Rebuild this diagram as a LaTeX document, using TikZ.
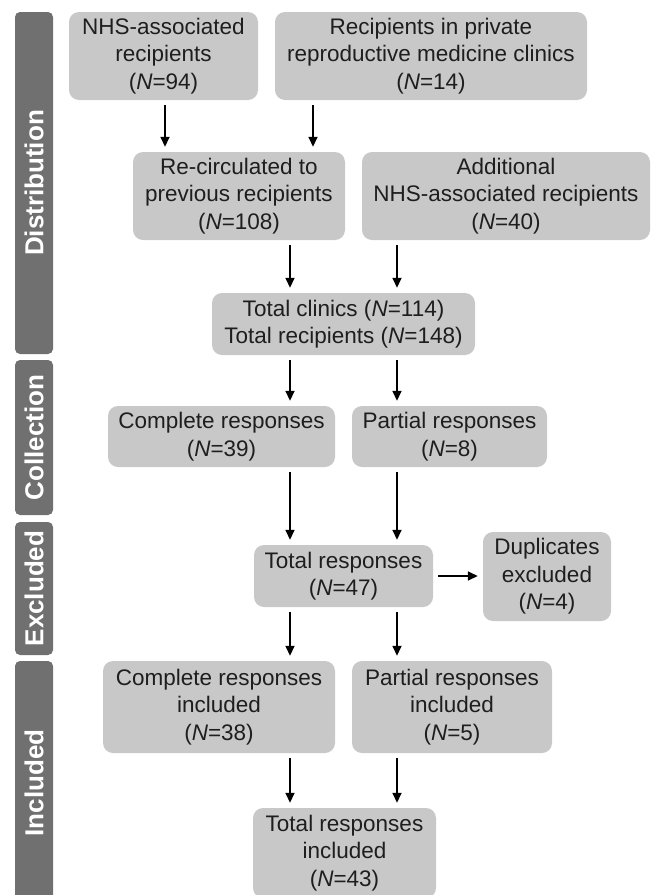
\documentclass[tikz,border=0pt]{standalone}
\usepackage{fontspec}
\setmainfont{Liberation Sans}
\usetikzlibrary{arrows.meta}
\definecolor{boxgray}{RGB}{200,200,200}
\definecolor{bargray}{RGB}{112,112,112}
\definecolor{txtgray}{RGB}{30,30,30}
\begin{document}
\begin{tikzpicture}[x=1pt,y=-1pt,
  flowbox/.style={fill=boxgray, rounded corners=10pt, align=center, inner sep=0pt,
    font=\fontsize{22.5}{27.5}\selectfont, text=txtgray},
  sidebar/.style={fill=bargray, rounded corners=5pt, rotate=90, inner sep=0pt,
    minimum height=38pt, text=white, font=\fontsize{26}{30}\selectfont\bfseries},
  arr/.style={line width=1.6pt, black, -{Triangle[length=10pt,width=9pt]},
    shorten <=5pt, shorten >=5pt}]
\useasboundingbox (0,0) rectangle (655,895);

% side bars
\node[sidebar, minimum width=342pt] (sdist) at (34,183) {Distribution};
\node[sidebar, minimum width=155pt] (scoll) at (34,437.5) {Collection};
\node[sidebar, minimum width=133pt] (sexcl) at (34,588.5) {Excluded};
\node[sidebar, minimum width=244pt] (sincl) at (34,783) {Included};

% boxes
\node[flowbox, minimum width=189pt, minimum height=88pt] (nhs) at (163.5,56)
  {NHS-associated\\recipients\\(\textit{N}=94)};
\node[flowbox, minimum width=312pt, minimum height=88pt] (priv) at (431,56)
  {Recipients in private\\reproductive medicine clinics\\(\textit{N}=14)};
\node[flowbox, minimum width=212pt, minimum height=88pt] (recirc) at (239,196)
  {Re-circulated to\\previous recipients\\(\textit{N}=108)};
\node[flowbox, minimum width=288pt, minimum height=88pt] (addl) at (506,196)
  {Additional\\NHS-associated recipients\\(\textit{N}=40)};
\node[flowbox, minimum width=263pt, minimum height=62pt] (tclin) at (343.5,324)
  {Total clinics (\textit{N}=114)\\Total recipients (\textit{N}=148)};
\node[flowbox, minimum width=227pt, minimum height=61pt] (comp) at (221.5,436.5)
  {Complete responses\\(\textit{N}=39)};
\node[flowbox, minimum width=195pt, minimum height=61pt] (part) at (449.5,436.5)
  {Partial responses\\(\textit{N}=8)};
\node[flowbox, minimum width=179pt, minimum height=62pt] (tresp) at (343.5,576)
  {Total responses\\(\textit{N}=47)};
\node[flowbox, minimum width=128pt, minimum height=89pt] (dup) at (547,576.5)
  {Duplicates\\excluded\\(\textit{N}=4)};
\node[flowbox, minimum width=232pt, minimum height=92pt] (compinc) at (219,707)
  {Complete responses\\included\\(\textit{N}=38)};
\node[flowbox, minimum width=200pt, minimum height=92pt] (partinc) at (452,707)
  {Partial responses\\included\\(\textit{N}=5)};
\node[flowbox, minimum width=183pt, minimum height=90pt] (tinc) at (344.5,853)
  {Total responses\\included\\(\textit{N}=43)};

% arrow columns
\coordinate (c1) at (165,0);
\coordinate (c2) at (313,0);
\coordinate (ca) at (290,0);
\coordinate (cb) at (397,0);

\draw[arr] (nhs.south -| c1) -- (recirc.north -| c1);
\draw[arr] (priv.south -| c2) -- (recirc.north -| c2);
\draw[arr] (recirc.south -| ca) -- (tclin.north -| ca);
\draw[arr] (addl.south -| cb) -- (tclin.north -| cb);
\draw[arr] (tclin.south -| ca) -- (comp.north -| ca);
\draw[arr] (tclin.south -| cb) -- (part.north -| cb);
\draw[arr] (comp.south -| ca) -- (tresp.north -| ca);
\draw[arr] (part.south -| cb) -- (tresp.north -| cb);
\draw[arr] (tresp.east) -- (dup.west |- tresp.east);
\draw[arr] (tresp.south -| ca) -- (compinc.north -| ca);
\draw[arr] (tresp.south -| cb) -- (partinc.north -| cb);
\draw[arr] (compinc.south -| ca) -- (tinc.north -| ca);
\draw[arr] (partinc.south -| cb) -- (tinc.north -| cb);
\end{tikzpicture}
\end{document}
